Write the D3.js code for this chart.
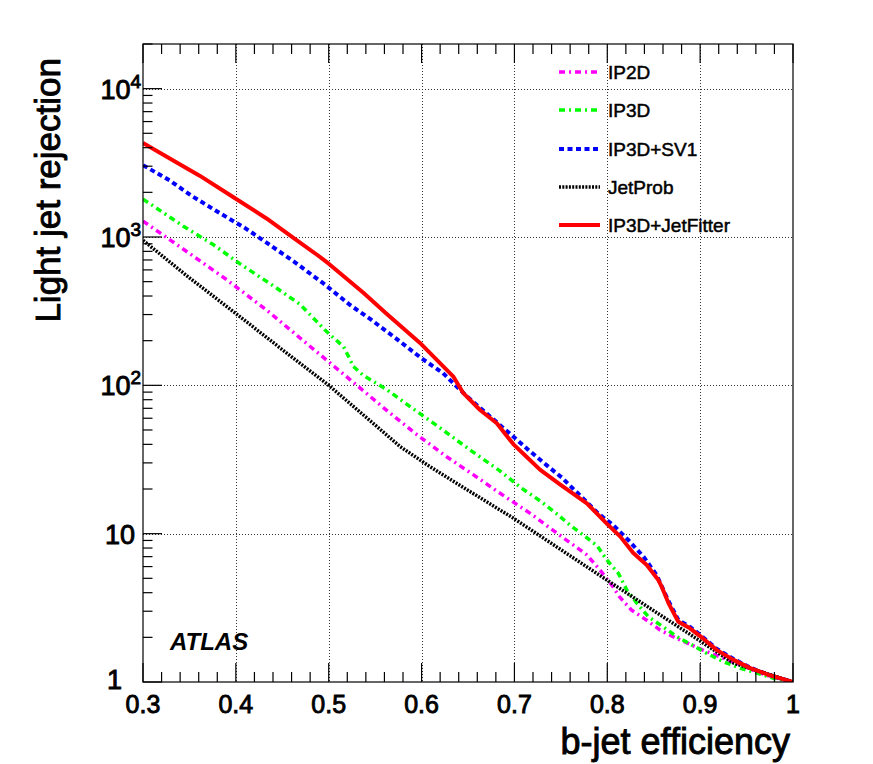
<!DOCTYPE html>
<html>
<head>
<meta charset="utf-8">
<script src="https://cdn.jsdelivr.net/npm/d3@7"></script>
<style>
  html, body { margin: 0; padding: 0; background: #fff; }
  svg { display: block; font-family: "Liberation Sans", Arial, Helvetica, sans-serif; }
</style>
</head>
<body>
<svg id="chart" width="873" height="764"></svg>
<script>
// ---------------- data ----------------
const ip2dX = [0.3, 0.342, 0.388, 0.433, 0.476, 0.506, 0.5355, 0.564, 0.593, 0.627, 0.656, 0.683, 0.717, 0.747, 0.778, 0.792, 0.806, 0.813, 0.826, 0.842, 0.857, 0.871, 0.887, 0.903, 0.921, 0.939, 0.957, 0.975, 1.0];
const ip2dY = [1280, 840, 527, 322, 192, 134, 94, 66.5, 47.5, 33, 24.9, 19, 13.7, 9.95, 7.2, 5.7, 4.4, 3.76, 3.06, 2.62, 2.24, 2.02, 1.82, 1.64, 1.48, 1.34, 1.2, 1.09, 1.0];

const ip3dX = [0.3, 0.311, 0.343, 0.376, 0.406, 0.439, 0.469, 0.496, 0.503, 0.516, 0.521, 0.5265, 0.537, 0.562, 0.593, 0.623, 0.654, 0.684, 0.708, 0.729, 0.745, 0.76, 0.774, 0.789, 0.7995, 0.812, 0.821, 0.832, 0.844, 0.86, 0.875, 0.891, 0.907, 0.925, 0.943, 0.961, 0.979, 1.0];
const ip3dY = [1800, 1620, 1188, 885, 649, 475, 352, 236, 215, 182, 158, 134, 117, 94, 68, 50, 36, 26.6, 20.2, 16.4, 13.7, 11.4, 9.8, 8.3, 6.65, 5.4, 4.17, 3.39, 2.76, 2.36, 2.02, 1.78, 1.56, 1.37, 1.24, 1.15, 1.06, 1.0];

const sv1X = [0.3, 0.329, 0.352, 0.383, 0.41, 0.433, 0.464, 0.494, 0.523, 0.546, 0.577, 0.6, 0.623, 0.649, 0.674, 0.699, 0.715, 0.7365, 0.751, 0.771, 0.79, 0.8065, 0.8225, 0.839, 0.853, 0.866, 0.8765, 0.889, 0.9, 0.918, 0.936, 0.954, 0.975, 1.0];
const sv1Y = [3050, 2400, 1900, 1445, 1148, 917, 672, 488, 348, 276, 197, 152, 121, 84, 61.5, 45, 36.7, 28.3, 23.9, 18, 13.7, 11.4, 9.07, 7.0, 5.27, 3.5, 2.62, 2.35, 2.08, 1.67, 1.43, 1.25, 1.11, 1.0];

const jetProbX = [0.3, 0.35, 0.4, 0.45, 0.5, 0.55, 0.577, 0.609, 0.65, 0.699, 0.75, 0.7995, 0.846, 0.893, 0.936, 0.97, 1.0];
const jetProbY = [950, 530, 305, 174, 100, 54, 38.6, 28.3, 19.6, 12.7, 7.8, 4.87, 3.14, 2.02, 1.34, 1.15, 1.0];

const jfX = [0.3, 0.333, 0.361, 0.397, 0.433, 0.462, 0.487, 0.5, 0.519, 0.537, 0.562, 0.598, 0.634, 0.645, 0.663, 0.681, 0.699, 0.713, 0.7275, 0.749, 0.778, 0.8, 0.814, 0.828, 0.8425, 0.855, 0.8585, 0.866, 0.8765, 0.889, 0.9, 0.918, 0.936, 0.954, 0.975, 1.0];
const jfY = [4300, 3270, 2590, 1860, 1333, 988, 762, 661, 525, 422, 305, 194, 115, 88.5, 68.2, 55.5, 40, 33, 27, 21.5, 16, 11.6, 9.55, 7.4, 6.15, 4.87, 4.4, 3.39, 2.55, 2.3, 2.04, 1.64, 1.41, 1.24, 1.11, 1.0];

const seriesNames = ["IP2D", "IP3D", "IP3D+SV1", "JetProb", "IP3D+JetFitter"];
const xTickValues = [0.3, 0.4, 0.5, 0.6, 0.7, 0.8, 0.9, 1.0];
const xTickLabels = ["0.3", "0.4", "0.5", "0.6", "0.7", "0.8", "0.9", "1"];
const yTickValues = [1, 10, 100, 1000, 10000];
const yTickLabels = [["1", ""], ["10", ""], ["10", "2"], ["10", "3"], ["10", "4"]];

// ---------------- layout ----------------
const svg = d3.select("#chart");
const L = 143, R = 793, T = 44, B = 682;
const x = d3.scaleLinear().domain([0.3, 1.0]).range([L, R]);
const y = d3.scaleLog().domain([1, 20000]).range([B, T]);

const styles = [
  { color: "#ff00ff", width: 3.5, dash: "6,4,2,4" },
  { color: "#00ff00", width: 3.5, dash: "6,4,2,4" },
  { color: "#0000ff", width: 4, dash: "5,3.5" },
  { color: "#000000", width: 3.5, dash: "2,1.3" },
  { color: "#ff0000", width: 4, dash: null }
];
const series = [
  { name: seriesNames[0], xs: ip2dX, ys: ip2dY },
  { name: seriesNames[1], xs: ip3dX, ys: ip3dY },
  { name: seriesNames[2], xs: sv1X, ys: sv1Y },
  { name: seriesNames[3], xs: jetProbX, ys: jetProbY },
  { name: seriesNames[4], xs: jfX, ys: jfY }
];

// grid
const grid = svg.append("g").attr("stroke", "#333").attr("stroke-width", 1).attr("stroke-dasharray", "1,2");
xTickValues.filter(v => v > 0.3 && v < 1.0).forEach(v => {
  grid.append("line").attr("x1", Math.round(x(v)) + 0.5).attr("x2", Math.round(x(v)) + 0.5).attr("y1", T).attr("y2", B);
});
yTickValues.filter(v => v > 1).forEach(v => {
  grid.append("line").attr("x1", L).attr("x2", R).attr("y1", Math.round(y(v)) + 0.5).attr("y2", Math.round(y(v)) + 0.5);
});

// curves
svg.append("clipPath").attr("id", "clip").append("rect")
  .attr("x", L).attr("y", T).attr("width", R - L).attr("height", B - T);
const lineGen = d3.line().x(d => x(d[0])).y(d => y(d[1]));
series.forEach((s, i) => {
  const pts = s.xs.map((v, k) => [v, s.ys[k]]);
  const p = svg.append("path").datum(pts)
    .attr("d", lineGen)
    .attr("fill", "none")
    .attr("stroke", styles[i].color)
    .attr("stroke-width", styles[i].width)
    .attr("stroke-linejoin", "round")
    .attr("clip-path", "url(#clip)");
  if (styles[i].dash) p.attr("stroke-dasharray", styles[i].dash);
});

// frame
svg.append("rect").attr("x", L).attr("y", T).attr("width", R - L).attr("height", B - T)
  .attr("fill", "none").attr("stroke", "#000").attr("stroke-width", 1.2);

// x ticks (bottom & top)
const ticks = svg.append("g").attr("stroke", "#000").attr("stroke-width", 1.2);
const xMinor = d3.range(0, 36).map(k => 0.3 + k * 0.02);
xMinor.forEach(v => {
  const isMajor = Math.abs(Math.round(v * 10) - v * 10) < 1e-6;
  const len = isMajor ? 19 : 10;
  const px = x(v);
  ticks.append("line").attr("x1", px).attr("x2", px).attr("y1", B).attr("y2", B - len);
  ticks.append("line").attr("x1", px).attr("x2", px).attr("y1", T).attr("y2", T + len);
});
// y ticks (left)
for (let dec = 1; dec <= 10000; dec *= 10) {
  for (let m = 1; m <= 9; m++) {
    const v = dec * m;
    if (v > 20000) break;
    const len = m === 1 ? 19 : 9.5;
    const py = y(v);
    ticks.append("line").attr("x1", L).attr("x2", L + len).attr("y1", py).attr("y2", py);
  }
}

const heavy = sel => sel.attr("fill", "#000").attr("stroke", "#000").attr("stroke-width", 0.9).attr("paint-order", "stroke");

// x tick labels
xTickValues.forEach((v, i) => {
  svg.append("text").attr("x", x(v)).attr("y", 713)
    .attr("text-anchor", "middle").attr("font-size", 25)
    .call(heavy)
    .text(xTickLabels[i]);
});
// y tick labels
yTickValues.forEach((v, i) => {
  const [base, exp] = yTickLabels[i];
  const t = svg.append("text").attr("font-size", 27)
    .attr("text-anchor", "end").call(heavy);
  if (exp) {
    t.attr("x", 141).attr("y", y(v) + 10);
    t.append("tspan").text(base);
    t.append("tspan").attr("dy", -11).attr("font-size", 19).text(exp);
  } else if (v === 1) {
    t.attr("x", 122).attr("y", y(v) + 7).text(base);
  } else {
    t.attr("x", 135).attr("y", y(v) + 10).text(base);
  }
});

// axis titles
svg.append("text").attr("x", 790).attr("y", 754).attr("text-anchor", "end")
  .attr("font-size", 36).call(heavy).text("b-jet efficiency");
svg.append("text").attr("transform", "translate(60,58) rotate(-90)").attr("text-anchor", "end")
  .attr("font-size", 35).call(heavy).text("Light jet rejection");

// ATLAS label
svg.append("text").attr("x", 170).attr("y", 650).attr("font-size", 24)
  .attr("font-weight", "bold").attr("font-style", "italic").attr("fill", "#000").text("ATLAS");

// legend
const legY = [72, 110, 149, 187, 225];
series.forEach((s, i) => {
  const g = svg.append("g");
  const ln = g.append("line").attr("x1", 559).attr("x2", 600).attr("y1", legY[i]).attr("y2", legY[i])
    .attr("stroke", styles[i].color).attr("stroke-width", styles[i].width);
  if (styles[i].dash) ln.attr("stroke-dasharray", styles[i].dash);
  g.append("text").attr("x", 608).attr("y", legY[i] + 7).attr("font-size", 19)
    .attr("fill", "#000").attr("stroke", "#000").attr("stroke-width", 0.5)
    .text(s.name);
});
</script>
</body>
</html>
